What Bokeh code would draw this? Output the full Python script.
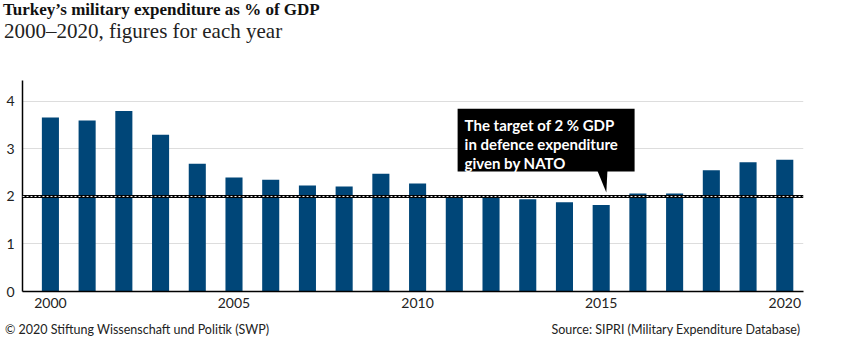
from bokeh.plotting import figure
from bokeh.layouts import column
from bokeh.models import Range1d, Span, FixedTicker, ColumnDataSource, Div
from bokeh.core.properties import value
from bokeh.embed import file_html
from bokeh.resources import INLINE

years = list(range(2000, 2021))
share_gdp = [3.66, 3.60, 3.80, 3.30, 2.69, 2.40, 2.35, 2.23, 2.21, 2.48, 2.27,
             2.03, 1.99, 1.94, 1.88, 1.82, 2.06, 2.06, 2.55, 2.72, 2.77]
x_ticks = [2000, 2005, 2010, 2015, 2020]
y_ticks = [0, 1, 2, 3, 4]
nato_target = 2.0
title_text = "Turkey\u2019s military expenditure as % of GDP"
subtitle_text = "2000\u20132020, figures for each year"
note_lines = ["The target of 2 % GDP", "in defence expenditure", "given by NATO"]
credit_text = "\u00a9 2020 Stiftung Wissenschaft und Politik (SWP)"
source_text = "Source: SIPRI (Military Expenditure Database)"

BAR = "#004678"
SANS = "Lato"
SERIF = "Liberation Serif"
W = 841
HEAD_H, MAIN_H, FOOT_H = 44, 272, 32

# header (title + subtitle)
head_html = (
    f'<div style="position:relative;width:{W}px;height:{HEAD_H}px;overflow:visible;">'
    f'<span style="position:absolute;left:3px;top:1.3px;white-space:nowrap;'
    f"font-family:'{SERIF}';font-weight:bold;font-size:17px;line-height:17px;color:#111;\">"
    f'{title_text}</span>'
    f'<span style="position:absolute;left:4px;top:22.9px;white-space:nowrap;'
    f"font-family:'{SERIF}';font-size:21px;line-height:16px;color:#222;\">"
    f'{subtitle_text}</span></div>'
)
head = Div(text=head_html, width=W, height=HEAD_H, margin=(0, 0, 0, 0))

# main chart
p = figure(width=W, height=MAIN_H, output_backend="svg", toolbar_location=None,
           x_range=Range1d(1999.24, 2020.51), y_range=Range1d(0, 4.44),
           min_border_left=22, min_border_right=38,
           min_border_top=36, min_border_bottom=25, margin=(0, 0, 0, 0))
p.outline_line_color = None
p.background_fill_color = "white"
p.border_fill_color = "white"

src = ColumnDataSource(dict(x=years, top=share_gdp))
p.vbar(x="x", top="top", width=0.465, bottom=0, source=src,
       fill_color=BAR, line_color=None)

p.add_layout(Span(location=nato_target, dimension="width", line_color="black", line_width=3))
p.add_layout(Span(location=nato_target, dimension="width", line_color="white",
                  line_width=1, line_dash="2 2"))

p.xaxis.ticker = FixedTicker(ticks=x_ticks)
p.yaxis.ticker = FixedTicker(ticks=y_ticks)
for ax in (p.xaxis[0], p.yaxis[0]):
    ax.major_tick_out = 0
    ax.major_tick_in = 0
    ax.minor_tick_out = 0
    ax.minor_tick_in = 0
    ax.axis_line_color = "black"
    ax.axis_line_width = 1.5
    ax.major_label_text_font = SANS
    ax.major_label_text_font_size = "14px"
    ax.major_label_text_color = "#222222"
p.xaxis.major_label_standoff = 6
p.yaxis.major_label_standoff = 8
p.xgrid.grid_line_color = None
p.ygrid.grid_line_color = "#dddddd"
p.ygrid.grid_line_width = 1

# annotation box anchored near the target line
bx0, bx1, by0, by1 = 2011.09, 2015.91, 2.526, 3.846
p.quad(left=[bx0], right=[bx1], bottom=[by0], top=[by1], fill_color="black", line_color=None)
p.patch(x=[2014.90, 2015.17, 2015.14], y=[by0 + 0.01, by0 + 0.01, 2.085],
        fill_color="black", line_color=None)
p.text(x=[2011.28] * 3, y=[3.495, 3.095, 2.695], text=note_lines,
       text_color="white", text_font=value(SANS), text_font_style="bold",
       text_font_size="15px", text_baseline="alphabetic", text_align="left")

# footer
foot_html = (
    f'<div style="position:relative;width:{W}px;height:{FOOT_H}px;">'
    f'<span style="position:absolute;left:5px;top:8px;white-space:nowrap;'
    f"font-family:'{SANS}';font-size:12.5px;line-height:12.5px;color:#222;\">"
    f'{credit_text}</span>'
    f'<span style="position:absolute;right:41px;top:8px;white-space:nowrap;'
    f"font-family:'{SANS}';font-size:12.5px;line-height:12.5px;color:#222;\">"
    f'{source_text}</span></div>'
)
foot = Div(text=foot_html, width=W, height=FOOT_H, margin=(0, 0, 0, 0))

layout = column(head, p, foot, spacing=0)
open("out.html", "w").write(file_html(layout, INLINE))
